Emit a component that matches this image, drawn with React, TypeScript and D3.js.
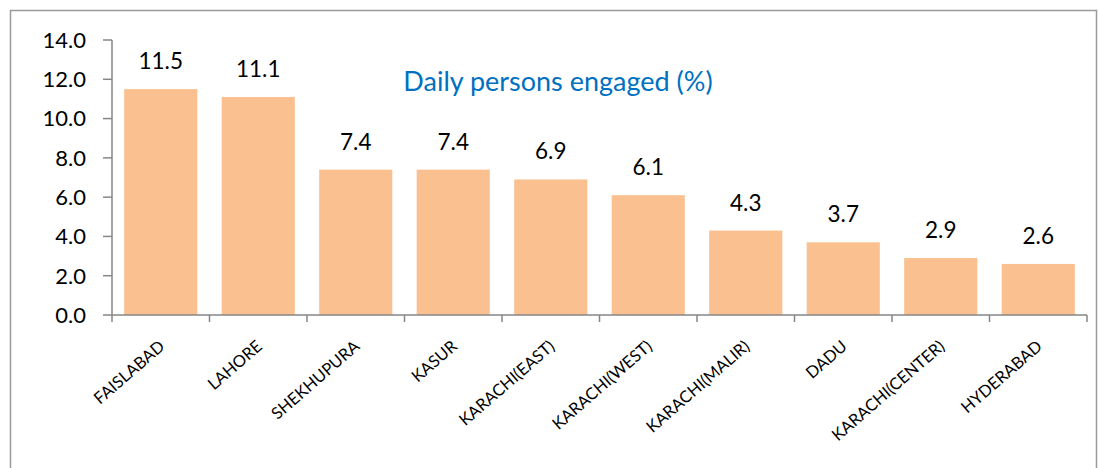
import React from "react";
import * as d3 from "d3";

const districts = [
  "FAISLABAD", "LAHORE", "SHEKHUPURA", "KASUR", "KARACHI(EAST)",
  "KARACHI(WEST)", "KARACHI(MALIR)", "DADU", "KARACHI(CENTER)", "HYDERABAD",
];
const engaged = [11.5, 11.1, 7.4, 7.4, 6.9, 6.1, 4.3, 3.7, 2.9, 2.6];
const yTicks = [0, 2, 4, 6, 8, 10, 12, 14];

const W = 1099;
const H = 468;
const margin = { top: 40, right: 12, bottom: 153, left: 112 };
const font = "Lato, 'Open Sans', sans-serif";

export default function App() {
  const innerW = W - margin.left - margin.right;
  const innerH = H - margin.top - margin.bottom;

  const x = d3.scaleBand<string>().domain(districts).range([0, innerW]).paddingInner(0.25).paddingOuter(0.125);
  const y = d3.scaleLinear().domain([0, 14]).range([innerH, 0]);
  const axisColor = "#868686";

  return (
    <svg width={W} height={H} style={{ position: "absolute", left: 0, top: 0 }}>
      <rect x={10.5} y={10.5} width={1086} height={470} fill="#fff" stroke="#9a9a9a" strokeWidth={1.5} />
      <g transform={`translate(${margin.left},${margin.top})`}>
        {districts.map((d, i) => (
          <rect key={d} x={x(d)} y={y(engaged[i])} width={x.bandwidth()} height={innerH - y(engaged[i])} fill="#FAC090" />
        ))}
        {districts.map((d, i) => (
          <text key={d} x={x(d)! + x.bandwidth() / 2} y={y(engaged[i]) - 20} textAnchor="middle"
            fontFamily={font} fontSize={22.5} fill="#000">{engaged[i].toFixed(1)}</text>
        ))}
        {/* y axis */}
        <line x1={0} x2={0} y1={0} y2={innerH} stroke={axisColor} strokeWidth={1.5} />
        {yTicks.map(t => (
          <g key={t} transform={`translate(0,${y(t)})`}>
            <line x1={-9} x2={0} stroke={axisColor} strokeWidth={1.5} />
            <text x={-26} dy="0.36em" textAnchor="end" fontFamily={font} fontSize={22} fill="#000">{t.toFixed(1)}</text>
          </g>
        ))}
        {/* x axis */}
        <line x1={0} x2={innerW} y1={innerH} y2={innerH} stroke={axisColor} strokeWidth={1.5} />
        {d3.range(districts.length + 1).map(i => (
          <line key={i} x1={i * x.step()} x2={i * x.step()} y1={innerH} y2={innerH + 7} stroke={axisColor} strokeWidth={1.5} />
        ))}
        {districts.map(d => (
          <text key={d} transform={`translate(${x(d)! + x.bandwidth() / 2 + 5},${innerH + 33}) rotate(-41)`}
            textAnchor="end" fontFamily={font} fontSize={16.5} fill="#000">{d}</text>
        ))}
        <text x={558 - margin.left} y={82 - margin.top} dy="0.35em" textAnchor="middle" fontFamily={font} fontSize={27} fill="#0070C0">
          Daily persons engaged (%)
        </text>
      </g>
    </svg>
  );
}
